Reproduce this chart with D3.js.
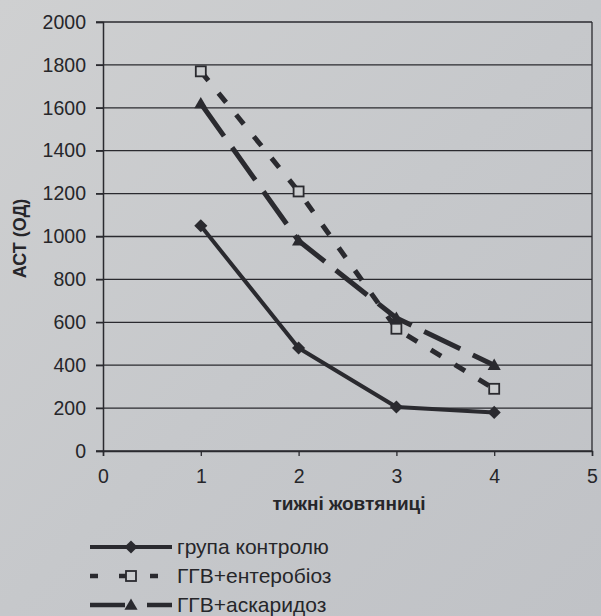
<!DOCTYPE html>
<html><head><meta charset="utf-8">
<script src="https://cdn.jsdelivr.net/npm/d3@7"></script>
<style>
html,body{margin:0;padding:0;background:#c6c8ca;}
svg{display:block;}
text{font-family:"Liberation Sans",Arial,sans-serif;fill:#26262a;}
</style></head>
<body>
<script>
const weeks = [1, 2, 3, 4];
const control = [1050, 480, 205, 180];
const enterobiosis = [1770, 1210, 570, 290];
const ascaridosis = [1620, 980, 620, 400];
const seriesNames = ["група контролю", "ГГВ+ентеробіоз", "ГГВ+аскаридоз"];
const yTicks = [0, 200, 400, 600, 800, 1000, 1200, 1400, 1600, 1800, 2000];
const xTicks = [0, 1, 2, 3, 4, 5];
const xTitle = "тижні жовтяниці";
const yTitle = "АСТ (ОД)";

const W = 601, H = 616;
const m = {left: 103, right: 9, top: 22, bottom: 165};
const svg = d3.select("body").append("svg").attr("width", W).attr("height", H);

const defs = svg.append("defs");
const grad = defs.append("linearGradient").attr("id","bg").attr("x1","0").attr("y1","0").attr("x2","1").attr("y2","1");
grad.append("stop").attr("offset","0").attr("stop-color","#cfd0d1");
grad.append("stop").attr("offset","0.5").attr("stop-color","#c6c8cb");
grad.append("stop").attr("offset","1").attr("stop-color","#c0c2c6");
svg.append("rect").attr("width",W).attr("height",H).attr("fill","url(#bg)");

const x = d3.scaleLinear().domain([0,5]).range([m.left, W - m.right]);
const y = d3.scaleLinear().domain([0,2000]).range([H - m.bottom, m.top]);

const ink = "#2a2a2f";

// gridlines
svg.append("g").selectAll("line").data(yTicks).join("line")
  .attr("x1", m.left - 7).attr("x2", W - m.right)
  .attr("y1", d => y(d)).attr("y2", d => y(d))
  .attr("stroke", ink).attr("stroke-width", 1.3);

// right border
svg.append("line").attr("x1", W - m.right).attr("x2", W - m.right)
  .attr("y1", m.top).attr("y2", y(0)).attr("stroke", ink).attr("stroke-width", 1.3);

// axes
const yAxis = svg.append("g").attr("transform", `translate(${m.left},0)`)
  .call(d3.axisLeft(y).tickValues(yTicks).tickSize(7).tickPadding(10).tickFormat(d3.format("d")));
const xAxis = svg.append("g").attr("transform", `translate(0,${y(0)})`)
  .call(d3.axisBottom(x).tickValues(xTicks).tickSize(5).tickPadding(13).tickFormat(d3.format("d")));
[yAxis, xAxis].forEach(g => {
  g.attr("font-size", 19.5).attr("font-family", '"Liberation Sans",Arial,sans-serif');
  g.select(".domain").attr("stroke", ink).attr("stroke-width", 1.5);
  g.selectAll(".tick line").attr("stroke", ink).attr("stroke-width", 1.3);
  g.selectAll(".tick text").attr("fill", "#26262a");
});

// titles
svg.append("text").attr("x", 349).attr("y", 510)
  .attr("text-anchor", "middle").attr("font-weight", "bold").attr("font-size", 19).text(xTitle);
svg.append("text").attr("transform", `translate(26,${y(1000) + 2}) rotate(-90)`)
  .attr("text-anchor", "middle").attr("font-weight", "bold").attr("font-size", 18).text(yTitle);

const line = d3.line().x((d, i) => x(weeks[i])).y(d => y(d));

const styles = [
  {data: control, dash: null, width: 4, marker: "diamond"},
  {data: enterobiosis, dash: "12,16", width: 5, marker: "square"},
  {data: ascaridosis, dash: "40,14", width: 5, marker: "triangle"}
];

function drawMarker(g, type, cx, cy) {
  if (type === "diamond") {
    g.append("path").attr("d", d3.symbol(d3.symbolDiamond2, 110)())
      .attr("transform", `translate(${cx},${cy})`).attr("fill", ink);
  } else if (type === "square") {
    g.append("rect").attr("x", cx - 5).attr("y", cy - 5).attr("width", 10).attr("height", 10)
      .attr("fill", "#cbcdcf").attr("stroke", ink).attr("stroke-width", 1.8);
  } else {
    g.append("path").attr("d", d3.symbol(d3.symbolTriangle, 75)())
      .attr("transform", `translate(${cx},${cy + 1})`).attr("fill", ink);
  }
}

// draw order: ascaridosis, enterobiosis, control
[2, 1, 0].forEach(k => {
  const s = styles[k];
  const g = svg.append("g");
  g.append("path").datum(s.data).attr("d", line).attr("fill", "none")
    .attr("stroke", ink).attr("stroke-width", s.width)
    .attr("stroke-dasharray", s.dash).attr("stroke-linejoin", "round");
  s.data.forEach((v, i) => drawMarker(g, s.marker, x(weeks[i]), y(v)));
});

// legend
const legY = [547, 576, 605];
styles.forEach((s, k) => {
  const g = svg.append("g");
  const yy = legY[k];
  if (k === 0) {
    g.append("line").attr("x1", 90).attr("x2", 172).attr("y1", yy).attr("y2", yy)
      .attr("stroke", ink).attr("stroke-width", 4);
  } else if (k === 1) {
    [[90,98],[119,126],[150,158]].forEach(([a,b]) =>
      g.append("line").attr("x1", a).attr("x2", b).attr("y1", yy).attr("y2", yy)
        .attr("stroke", ink).attr("stroke-width", 4.5));
  } else {
    [[90,125],[147,172]].forEach(([a,b]) =>
      g.append("line").attr("x1", a).attr("x2", b).attr("y1", yy).attr("y2", yy)
        .attr("stroke", ink).attr("stroke-width", 4.5));
  }
  drawMarker(g, s.marker, 131, yy);
  g.append("text").attr("x", 177).attr("y", yy + 7).attr("font-size", 21).text(seriesNames[k]);
});
</script>
</body></html>
